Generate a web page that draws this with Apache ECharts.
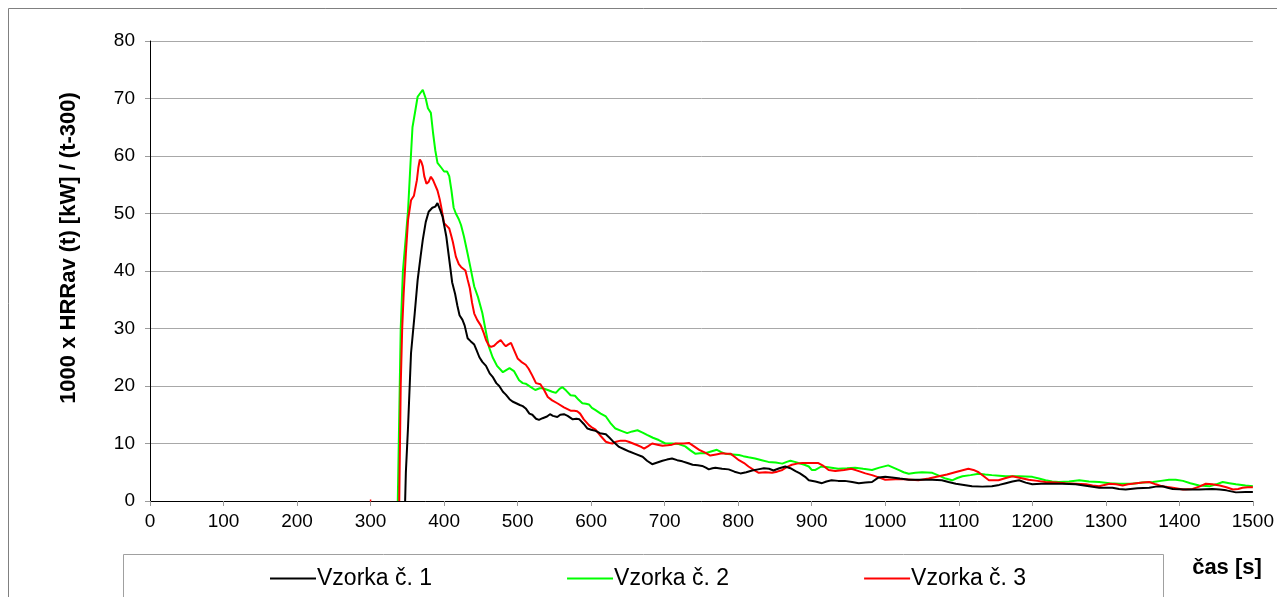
<!DOCTYPE html>
<html>
<head>
<meta charset="utf-8">
<script src="https://cdn.jsdelivr.net/npm/echarts@6/dist/echarts.min.js"></script>
<style>
  html, body { margin: 0; padding: 0; background: #fff; }
  #chart { width: 1277px; height: 597px; }
</style>
</head>
<body>
<div id="chart"></div>
<script>
// osa x: čas [s], osa y: 1000 x HRRav (t) / (t-300)
const xTicks = [0, 100, 200, 300, 400, 500, 600, 700, 800, 900, 1000, 1100, 1200, 1300, 1400, 1500]
const yTicks = [0, 10, 20, 30, 40, 50, 60, 70, 80]
const seriesNames = ['Vzorka č. 1', 'Vzorka č. 2', 'Vzorka č. 3']
const colors = ['#000000', '#00ff00', '#ff0000']

// Vzorka č. 1
const t1 = [347, 348, 351, 355, 360, 364, 368, 371, 375, 379, 384, 388, 391, 395, 398, 403, 407, 411, 415, 418,
  421, 425, 428, 432, 436, 441, 444, 448, 452, 457, 462, 466, 471, 475, 480, 484, 489, 493, 498, 503,
  507, 511, 516, 520, 525, 529, 534, 540, 544, 548, 554, 558, 563, 568, 575, 580, 584, 590, 595, 600,
  606, 612, 620, 625, 631, 638, 645, 652, 660, 670, 676, 683, 690, 697, 703, 710, 717, 724, 731, 738,
  745, 751, 756, 760, 765, 769, 778, 787, 795, 803, 811, 819, 827, 835, 842, 848, 856, 864, 871, 878,
  884, 891, 896, 905, 914, 920, 927, 936, 945, 955, 964, 973, 982, 991, 1000, 1009, 1020, 1032, 1048, 1064,
  1077, 1086, 1096, 1107, 1118, 1132, 1145, 1155, 1164, 1173, 1182, 1191, 1200, 1212, 1223, 1241, 1259, 1275, 1291, 1309,
  1318, 1327, 1343, 1359, 1368, 1377, 1384, 1391, 1409, 1427, 1445, 1455, 1464, 1477, 1490, 1500]
const v1 = [0, 5, 13, 25.7, 32.6, 38.4, 42.5, 45.4, 48.5, 50.3, 51, 51.2, 51.8, 50.5, 49.4, 46, 42, 38, 36, 34,
  32.3, 31.5, 30.5, 28.3, 27.8, 27.2, 26.3, 25, 24.2, 23.5, 22.2, 21.6, 20.5, 20, 19, 18.5, 17.7, 17.3, 17, 16.7,
  16.5, 16.1, 15.2, 15, 14.3, 14.1, 14.4, 14.7, 15.1, 14.8, 14.6, 15, 15.1, 14.8, 14.2, 14.3, 14.2, 13.4, 12.6, 12.4,
  12.2, 11.8, 11.6, 11, 10.2, 9.4, 9, 8.6, 8.2, 7.7, 7, 6.4, 6.7, 7, 7.2, 7.4, 7.1, 6.9, 6.6, 6.3,
  6.2, 6.1, 5.8, 5.5, 5.7, 5.8, 5.6, 5.5, 5.1, 4.8, 5, 5.3, 5.5, 5.7, 5.6, 5.3, 5.7, 6, 5.7, 5.2,
  4.8, 4.2, 3.6, 3.4, 3.1, 3.4, 3.6, 3.5, 3.5, 3.3, 3.1, 3.2, 3.3, 4.1, 4.2, 4.1, 3.9, 3.7, 3.7, 3.7,
  3.6, 3.3, 3, 2.8, 2.55, 2.5, 2.55, 2.8, 3.1, 3.4, 3.6, 3.2, 2.9, 3, 3, 3, 2.9, 2.6, 2.3, 2.3,
  2.1, 2, 2.2, 2.3, 2.5, 2.55, 2.3, 2.1, 2, 2, 2.1, 2, 1.85, 1.5, 1.55, 1.55]

// Vzorka č. 2
const t2 = [337, 339, 341, 344, 348, 351, 354, 357, 361, 364, 368, 371, 373, 375, 378, 382, 385, 388, 391, 396,
  400, 404, 407, 410, 413, 416, 420, 423, 427, 432, 436, 441, 446, 452, 456, 461, 466, 472, 480, 485,
  489, 495, 502, 507, 511, 518, 524, 530, 534, 541, 547, 552, 557, 561, 566, 572, 578, 583, 588, 593,
  597, 601, 606, 613, 620, 626, 633, 641, 649, 656, 663, 670, 676, 684, 692, 701, 710, 719, 728, 735,
  742, 748, 755, 763, 771, 777, 783, 792, 801, 807, 814, 823, 832, 841, 851, 860, 866, 871, 877, 882,
  890, 896, 900, 905, 913, 920, 936, 948, 959, 970, 982, 992, 1004, 1011, 1018, 1025, 1032, 1041, 1050, 1064,
  1073, 1082, 1091, 1098, 1105, 1116, 1127, 1136, 1145, 1155, 1164, 1182, 1200, 1209, 1218, 1227, 1236, 1250, 1264, 1277,
  1291, 1305, 1318, 1336, 1350, 1364, 1375, 1386, 1395, 1405, 1415, 1427, 1441, 1450, 1459, 1468, 1477, 1490, 1500]
const v2 = [0, 15, 30, 40, 46, 50.6, 58, 65, 68, 70.3, 71, 71.5, 71.5, 70, 68.3, 67.5, 64, 61, 58.8, 58,
  57.3, 57.3, 56.5, 54, 51, 50, 49, 48, 46, 43, 40.5, 37.3, 35.5, 32.7, 30, 26.8, 25, 23.5, 22.4, 22.8,
  23.1, 22.6, 21, 20.5, 20.4, 19.8, 19.3, 19.6, 19.6, 19.3, 19, 18.8, 19.5, 19.8, 19.2, 18.4, 18.3, 17.6, 17, 16.9,
  16.8, 16.2, 15.8, 15.2, 14.7, 13.6, 12.6, 12.2, 11.8, 12.1, 12.3, 11.9, 11.5, 11, 10.6, 10, 10, 9.9, 9.5, 8.8,
  8.2, 8.3, 8.3, 8.6, 8.9, 8.5, 8.2, 8.1, 8, 7.8, 7.6, 7.4, 7.1, 6.8, 6.7, 6.5, 6.8, 7, 6.8, 6.6,
  6.3, 6, 5.4, 5.4, 6, 5.9, 5.6, 5.7, 5.8, 5.6, 5.4, 5.8, 6.2, 5.8, 5.4, 5, 4.75, 4.9, 5, 4.9,
  4.4, 3.9, 3.6, 4, 4.3, 4.5, 4.75, 4.6, 4.5, 4.4, 4.3, 4.3, 4.2, 3.9, 3.6, 3.4, 3.3, 3.4, 3.6, 3.4,
  3.3, 3.1, 3, 3, 3.2, 3.3, 3.5, 3.7, 3.7, 3.5, 3.1, 2.7, 2.55, 2.9, 3.3, 3.1, 2.9, 2.7, 2.55]

// Vzorka č. 3 (bod v 300 s, potom mezera)
const t3 = [299, 301, 320, 339, 341, 343, 345, 348, 351, 355, 359, 363, 365, 367, 369, 371, 373, 376, 379, 382,
  385, 387, 391, 394, 396, 400, 404, 407, 410, 412, 416, 420, 423, 429, 432, 435, 438, 441, 445, 450,
  454, 457, 461, 464, 468, 472, 477, 481, 484, 487, 491, 495, 500, 505, 511, 515, 520, 525, 531, 536,
  541, 547, 554, 563, 572, 577, 581, 585, 590, 597, 602, 606, 613, 620, 625, 629, 634, 640, 646, 651,
  657, 663, 668, 672, 677, 683, 690, 697, 704, 710, 715, 719, 726, 733, 740, 747, 755, 762, 770, 778,
  784, 790, 795, 801, 808, 814, 821, 828, 837, 846, 853, 860, 866, 873, 880, 887, 900, 909, 916, 923,
  932, 944, 954, 964, 973, 982, 991, 1000, 1014, 1027, 1036, 1045, 1059, 1073, 1084, 1095, 1104, 1113, 1120, 1127,
  1134, 1141, 1154, 1164, 1173, 1184, 1195, 1207, 1218, 1232, 1245, 1259, 1273, 1282, 1291, 1298, 1305, 1314, 1323, 1330,
  1336, 1350, 1359, 1368, 1377, 1391, 1405, 1418, 1427, 1436, 1445, 1455, 1464, 1473, 1480, 1486, 1493, 1500]
const v3 = [0.1, 0.1, null, 0, 20, 30, 36, 43, 48.9, 52.3, 53.1, 55.8, 58, 59.4, 59, 58.2, 56.5, 55.2, 55.5, 56.4,
  55.8, 55.2, 54, 52.5, 51.2, 48.3, 47.8, 47.4, 46, 45, 42.5, 41.2, 40.7, 40.1, 38.5, 37, 34.5, 32.6, 31.5, 30.5,
  29.2, 28, 27, 26.8, 27, 27.5, 28, 27.3, 26.9, 27.2, 27.5, 26.3, 24.8, 24.2, 23.7, 23, 21.8, 20.5, 20.3, 19.3,
  18.1, 17.5, 17, 16.3, 15.7, 15.7, 15.6, 15.2, 14.2, 13.2, 12.7, 12.4, 11.3, 10.3, 10.1, 10, 10.3, 10.5, 10.5, 10.3,
  10, 9.7, 9.4, 9.1, 9.5, 10, 9.8, 9.6, 9.7, 9.8, 10, 10, 10, 10.1, 9.5, 8.9, 8.4, 7.9, 8.1, 8.3,
  8.2, 8.2, 7.7, 7.1, 6.6, 6, 5.4, 4.9, 5, 4.9, 5.1, 5.4, 5.9, 6.3, 6.5, 6.6, 6.6, 6.6, 6.1, 5.4,
  5.2, 5.4, 5.6, 5.2, 4.8, 4.5, 4.1, 3.7, 3.8, 3.8, 3.7, 3.6, 3.9, 4.3, 4.6, 5, 5.3, 5.6, 5.4, 5,
  4.3, 3.6, 3.6, 4, 4.3, 4, 3.7, 3.5, 3.3, 3.2, 3.1, 3, 2.9, 2.7, 2.55, 2.8, 3, 2.9, 2.7, 2.9,
  3, 3.2, 3.3, 2.9, 2.55, 2.3, 2, 2.1, 2.5, 3, 2.9, 2.7, 2.4, 2, 2.1, 2.3, 2.4, 2.4]

const times = [t1, t2, t3]
const values = [v1, v2, v3]

const chart = echarts.init(document.getElementById('chart'))

const series = seriesNames.map((name, i) => ({
  name,
  type: 'line',
  symbol: 'none',
  connectNulls: false,
  animation: false,
  lineStyle: { color: colors[i], width: 2 },
  itemStyle: { color: colors[i] },
  data: times[i].map((t, k) => [t, values[i][k]])
}))
// poradi vykresleni: zelena dole, cervena, cerna nahore
series[0].z = 4
series[1].z = 2
series[2].z = 3

const option = {
  backgroundColor: '#fff',
  animation: false,
  grid: {
    left: 150,
    right: 22,
    top: 41,
    bottom: 96
  },
  legend: {
    data: seriesNames,
    left: 265,
    top: 562,
    icon: 'rect',
    itemWidth: 46,
    itemHeight: 2,
    itemGap: 135,
    textStyle: {
      fontFamily: 'Liberation Sans',
      fontSize: 23,
      color: '#000',
      padding: [0, 0, 0, -4]
    }
  },
  xAxis: {
    type: 'value',
    min: 0,
    max: 1500,
    interval: 100,
    axisLine: { lineStyle: { color: '#000', width: 1 } },
    axisTick: { show: true, length: 5, lineStyle: { color: '#9a9a9a' } },
    axisLabel: {
      margin: 11,
      fontFamily: 'Liberation Sans',
      fontSize: 19,
      color: '#000',
      formatter: v => (xTicks.includes(v) ? String(v) : '')
    },
    splitLine: { show: false }
  },
  yAxis: {
    type: 'value',
    min: 0,
    max: 80,
    interval: 10,
    axisLine: { show: true, lineStyle: { color: '#000', width: 1 } },
    axisTick: { show: true, length: 5, lineStyle: { color: '#9a9a9a' } },
    axisLabel: {
      margin: 15,
      fontFamily: 'Liberation Sans',
      fontSize: 19,
      color: '#000',
      formatter: v => (yTicks.includes(v) ? String(v) : '')
    },
    splitLine: { show: true, lineStyle: { color: '#a8a8a8', width: 1 } }
  },
  graphic: [
    {
      type: 'rect',
      silent: true,
      z: -10,
      shape: { x: 8.5, y: 8.5, width: 1400, height: 700 },
      style: { fill: 'none', stroke: '#808080', lineWidth: 1 }
    },
    {
      type: 'rect',
      silent: true,
      z: -5,
      shape: { x: 123.5, y: 554.5, width: 1040, height: 100 },
      style: { fill: '#fff', stroke: '#a0a0a0', lineWidth: 1 }
    },
    {
      type: 'text',
      silent: true,
      x: 69,
      y: 248,
      rotation: Math.PI / 2,
      style: {
        text: '1000 x HRRav (t) [kW] / (t-300)',
        fontFamily: 'Liberation Sans',
        fontWeight: 'bold',
        fontSize: 22,
        fill: '#000',
        align: 'center',
        verticalAlign: 'middle'
      }
    },
    {
      type: 'text',
      silent: true,
      x: 1227,
      y: 568,
      style: {
        text: 'čas [s]',
        fontFamily: 'Liberation Sans',
        fontWeight: 'bold',
        fontSize: 22,
        fill: '#000',
        align: 'center',
        verticalAlign: 'middle'
      }
    }
  ],
  series
}

chart.setOption(option)
</script>
</body>
</html>
